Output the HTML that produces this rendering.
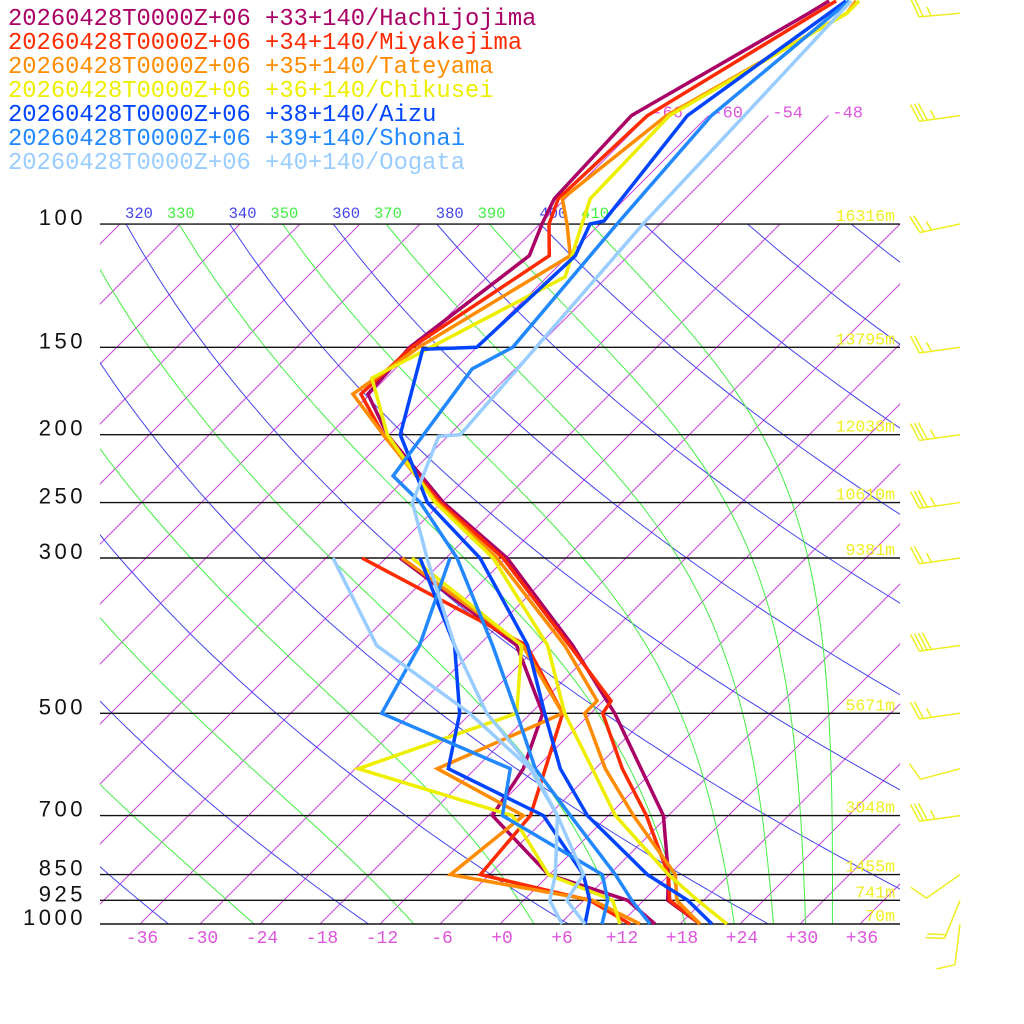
<!DOCTYPE html>
<html><head><meta charset="utf-8"><style>
html,body{margin:0;padding:0;background:#fff;}
svg{display:block;}
</style></head><body>
<svg id="chart" width="1024" height="1024" viewBox="0 0 1024 1024" xmlns="http://www.w3.org/2000/svg">
<defs>
<clipPath id="plotClip"><rect x="100" y="224" width="800" height="700"/></clipPath>
<clipPath id="labelClip"><rect x="100" y="0" width="924" height="1024"/></clipPath>
</defs>
<g id="grid"></g>
<g id="labels"></g>
<g id="traces"></g>
<g id="winds"></g>
<g id="legend"></g>
</svg>
<script>
// ---- data ----
const pressureLevels = [100,150,200,250,300,500,700,850,925,1000];
const heightLabels = ["16316m","13795m","12038m","10610m","9381m","5671m","3048m","1455m","741m","70m"];
const bottomTicks = [-36,-30,-24,-18,-12,-6,0,6,12,18,24,30,36];
const topIsotherms = [-66,-60,-54,-48];
const thetaLabels = [310,320,330,340,350,360,370,380,390,400,410];

const stationNames = ["20260428T0000Z+06 +33+140/Hachijojima","20260428T0000Z+06 +34+140/Miyakejima","20260428T0000Z+06 +35+140/Tateyama","20260428T0000Z+06 +36+140/Chikusei","20260428T0000Z+06 +38+140/Aizu","20260428T0000Z+06 +39+140/Shonai","20260428T0000Z+06 +40+140/Oogata"];
const stationColors = ["#aa0066","#ff2a00","#ff8c00","#eeee00","#0044ff","#2288ff","#99ccff"];

// temperature profiles (pressure hPa / temperature C)
const hachiP = [48,50,70,92,100,111,150,175,200,250,300,400,500,700,850,925,1000];
const hachiT = [-59.4,-60.2,-67.7,-67.1,-65.8,-63.9,-66.7,-66.2,-60.2,-47.8,-35.9,-20.6,-9.6,5.5,11.9,14.4,20.0];
const miyaP = [48,70,92,100,111,150,175,200,250,300,400,480,500,600,700,850,925,1000];
const miyaT = [-58.7,-66.1,-66.7,-65.1,-61.9,-66.5,-66.9,-60.6,-48.1,-36.3,-20.9,-11.2,-10.8,-3.3,3.8,11.9,14.6,20.0];
const tateP = [48,50,70,92,100,111,150,175,200,250,300,400,480,500,600,700,850,925,1000];
const tateT = [-56.7,-56.4,-64.2,-66.3,-63.3,-59.8,-65.8,-67.7,-60.6,-48.4,-36.9,-21.4,-12.6,-12.6,-5.0,2.5,12.6,15.3,20.0];
const chikuP = [48,50,70,92,100,119,150,166,200,250,300,400,500,600,700,850,925,1000];
const chikuT = [-56.4,-56.4,-63.9,-63.5,-61.8,-58.2,-64.6,-67.4,-60.2,-48.6,-37.3,-23.1,-14.6,-6.3,0.7,11.9,17.4,22.7];
const aizuP = [48,70,99,100,111,150,151,200,250,300,400,500,600,700,850,925,1000];
const aizuT = [-57.7,-62.1,-59.9,-61.0,-59.3,-60.0,-65.2,-58.9,-49.4,-38.6,-25.1,-16.6,-9.5,-2.1,9.8,16.4,21.2];
const shonaiP = [48,70,100,150,161,229,250,300,400,500,600,700,850,925,1000];
const shonaiT = [-57.4,-59.7,-58.3,-56.4,-58.3,-55.5,-50.1,-40.9,-28.6,-19.4,-12.0,-3.8,6.6,10.8,15.0];
const oogataP = [48,70,100,200,201,250,300,400,500,600,700,850,925,1000];
const oogataT = [-57.2,-56.4,-55.7,-52.9,-54.9,-50.9,-43.9,-32.4,-22.4,-12.3,-5.1,3.4,4.3,8.5];

// dewpoint profiles
const dewP = [300,400,500,600,700,850,925,1000];
const hachiTd = [-46.6,-26.2,-16.8,-13.2,-11.6,-0.1,10.4,15.5];
const miyaTd = [-50.4,-25.2,-14.8,-11.0,-7.8,-6.9,6.6,13.0];
const tateTd = [-46.4,-25.6,-14.8,-21.8,-8.5,-9.9,6.9,14.0];
const chikuTd = [-45.4,-25.7,-19.4,-29.7,-9.6,-0.1,8.9,12.0];
const aizuTd = [-44.6,-32.4,-25.1,-20.7,-6.5,3.4,6.6,8.5];
const shonaiTd = [-41.6,-35.9,-32.9,-14.5,-10.6,5.3,8.4,10.2];
const oogataTd = [-53.3,-40.2,-24.1,-12.5,-5.1,0.6,2.6,6.2];

// winds
const windP = [50,70,100,150,200,250,300,400,500,600,700,850,925,1000];
const windDir = [265,262,258,262,262,262,262,262,262,255,262,235,202,187];
const windSpd = [25,35,25,25,35,35,25,40,25,10,35,10,20,10];

// ---- scales ----
const NS = "http://www.w3.org/2000/svg";
function yP(p){ return 924 - 304*Math.log(1000/p); }
function xT(t,p){ return 500 + 10*t + (924 - yP(p)); }
function mk(tag, attrs, parent){
  const e = document.createElementNS(NS, tag);
  for (const k in attrs) e.setAttribute(k, attrs[k]);
  parent.appendChild(e);
  return e;
}
const grid = document.getElementById('grid');
const labels = document.getElementById('labels');
const traces = document.getElementById('traces');
const winds = document.getElementById('winds');
const legend = document.getElementById('legend');

const clipped = mk('g', {'clip-path':'url(#plotClip)'}, grid);

// isotherms
for (let t=-150; t<=48; t+=6){
  const l = mk('line', {x1:xT(t,1000), y1:924, x2:xT(t,100), y2:224, stroke:'#cc44dd', 'stroke-width':1}, clipped);
  
  
}
topIsotherms.forEach(t=>{
  const l = mk('line', {x1:xT(t,100), y1:224, x2:xT(t,70), y2:yP(70), stroke:'#cc44dd', 'stroke-width':1}, grid);
  
  
  const tx = mk('text', {x:xT(t,70)+4, y:yP(70)+2, fill:'#dd55dd', 'font-size':17, 'font-family':'"Liberation Mono", monospace'}, labels);
  tx.textContent = String(t);
  
  
});

// dry adiabats
for (let th=240; th<=640; th+=20){
  let d='';
  for (let p=1000; p>=100; p-=10){
    const t = th*Math.pow(p/1000,0.2857)-273.15;
    d += (p===1000?'M':'L') + xT(t,p).toFixed(1) + ' ' + yP(p).toFixed(1);
  }
  const pa = mk('path', {d:d, fill:'none', stroke:'#4444ee', 'stroke-width':1}, clipped);
  
  
}
// moist adiabats (theta-e)
function thetaE(tc,p){
  const es = 6.112*Math.exp(17.67*tc/(tc+243.5));
  const r = 622*es/(p-es);
  const tk = tc+273.15;
  const th = tk*Math.pow(1000/p, 0.2854*(1-0.00028*r));
  return th*Math.exp((3.376/tk-0.00254)*r*(1+0.00081*r));
}
for (let te=250; te<=410; te+=20){
  let d='';
  for (let p=1000; p>=100; p-=10){
    let lo=-130, hi=50;
    for (let i=0;i<40;i++){ const m=(lo+hi)/2; if (thetaE(m,p)>te) hi=m; else lo=m; }
    const t=(lo+hi)/2;
    d += (p===1000?'M':'L') + xT(t,p).toFixed(1) + ' ' + yP(p).toFixed(1);
  }
  const pa = mk('path', {d:d, fill:'none', stroke:'#44ee44', 'stroke-width':1}, clipped);
  
  
}

// pressure lines
pressureLevels.forEach((p,i)=>{
  const y=yP(p);
  const l = mk('line', {x1:100, y1:y, x2:900, y2:y, stroke:'#111', 'stroke-width':1.4}, grid);
  
  
  const t = mk('text', {x:86, y:y+1, 'text-anchor':'end', fill:'#111', 'font-size':22, 'letter-spacing':'3.5', 'font-family':'"Liberation Sans", sans-serif'}, labels);
  t.textContent = String(p);
  
  
  const h = mk('text', {x:895, y:y-3, 'text-anchor':'end', fill:'#eeee22', 'font-size':16.5, 'font-family':'"Liberation Mono", monospace'}, labels);
  h.textContent = heightLabels[i];
  
  
});

// bottom ticks
bottomTicks.forEach(t=>{
  const tx = mk('text', {x:500+10*t+2, y:943, 'text-anchor':'middle', fill:'#dd55dd', 'font-size':18, 'font-family':'"Liberation Mono", monospace'}, labels);
  tx.textContent = (t>=0?'+':'') + (t<0?'-'+Math.abs(t):t);
  
  
});
// theta labels
const tl = mk('g', {'clip-path':'url(#labelClip)'}, labels);
thetaLabels.forEach((th,i)=>{
  const t = th*Math.pow(0.1,0.2857)-273.15 - (th%20===10 ? 1 : 0);
  const tx = mk('text', {x:xT(t,100)+13, y:218, 'text-anchor':'middle', fill:(th%20===10?'#44ee44':'#4444ee'), 'font-size':15.5, 'font-family':'"Liberation Mono", monospace'}, tl);
  tx.textContent = String(th);
  
  
});

// traces
const tempSets = [[hachiP,hachiT],[miyaP,miyaT],[tateP,tateT],[chikuP,chikuT],[aizuP,aizuT],[shonaiP,shonaiT],[oogataP,oogataT]];
const dewSets = [hachiTd,miyaTd,tateTd,chikuTd,aizuTd,shonaiTd,oogataTd];
function line(ps,ts){ return ps.map((p,i)=>(i?'L':'M')+xT(ts[i],p).toFixed(1)+' '+yP(p).toFixed(1)).join(''); }
tempSets.forEach((s,i)=>{
  const d = mk('path', {d:line(dewP,dewSets[i]), fill:'none', stroke:stationColors[i], 'stroke-width':3.5, 'stroke-linejoin':'miter'}, traces);
  
  
  const t = mk('path', {d:line(s[0],s[1]), fill:'none', stroke:stationColors[i], 'stroke-width':3.5, 'stroke-linejoin':'miter'}, traces);
  
  
});

// wind barbs
windP.forEach((p,i)=>{
  const sy = yP(p), sx = 960;
  const a = windDir[i]*Math.PI/180;
  const vx = Math.sin(a), vy = -Math.cos(a);
  const L = 41;
  const ex = sx + vx*L, ey = sy + vy*L;
  const g = mk('g', {stroke:'#eeee22', 'stroke-width':1.5, fill:'none'}, winds);
  
  
  mk('line', {x1:sx, y1:sy, x2:ex, y2:ey}, g);
  const ang = Math.atan2(vy,vx) + 70*Math.PI/180;
  const bx = Math.cos(ang), by = Math.sin(ang);
  let spd = windSpd[i], k=0;
  while (spd >= 10){
    const px = ex - vx*4*k, py = ey - vy*4*k;
    mk('line', {x1:px, y1:py, x2:px+bx*19, y2:py+by*19}, g);
    spd -= 10; k++;
  }
  if (spd >= 5){
    const px = ex - vx*4*(k+1), py = ey - vy*4*(k+1);
    mk('line', {x1:px, y1:py, x2:px+bx*10, y2:py+by*10}, g);
  }
});

// legend
stationNames.forEach((n,i)=>{
  const t = mk('text', {x:8, y:25+24*i, fill:stationColors[i], 'font-size':23.8, 'font-family':'"Liberation Mono", monospace'}, legend);
  t.textContent = n;
  
  
});
</script>
</body></html>
